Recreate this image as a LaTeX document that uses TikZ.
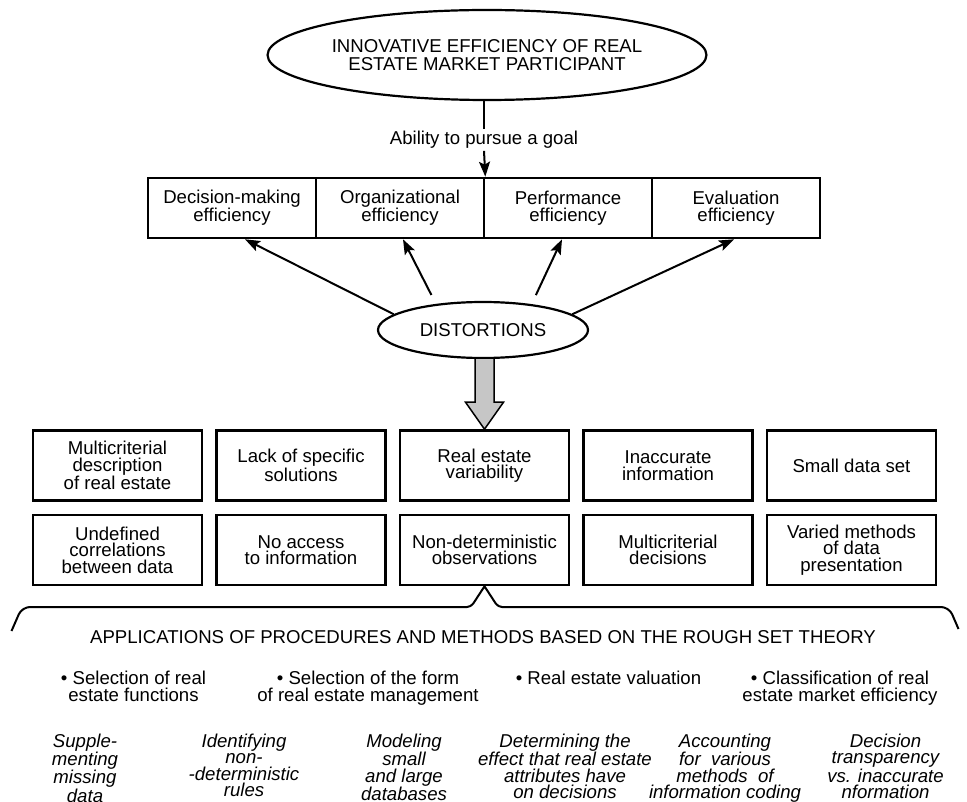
\documentclass[tikz,border=0pt]{standalone}
\usepackage{fontspec}
\setmainfont{Liberation Sans}
\usetikzlibrary{shapes.geometric,arrows.meta,calc}
\begin{document}
\begin{tikzpicture}[x=1pt,y=-1pt,
every node/.style={inner sep=0pt,align=center,font=\fontsize{18.6}{16.6}\selectfont},
oval/.style={draw,ellipse,line width=2.2pt},
goalbox/.style={draw,line width=2.6pt,minimum width=168pt,minimum height=60pt},
factbox/.style={draw,line width=2.6pt,minimum width=169pt,minimum height=70pt},
link/.style={line width=2pt,-{Stealth[length=15pt,width=11pt,inset=3pt]}},
usage/.style={anchor=north,font=\fontsize{18.6}{17.7}\selectfont},
task/.style={anchor=north,font=\fontsize{18.6}{16.5}\selectfont\itshape}]
\useasboundingbox (0,0) rectangle (967,802);
\node[oval,minimum width=400pt,minimum height=90pt,font=\fontsize{18.6}{17.5}\selectfont] (ieff) at (487,55) {INNOVATIVE EFFICIENCY OF REAL\\ESTATE MARKET PARTICIPANT};
\node[inner sep=2pt] (goal) at (484,140) {Ability to pursue a goal};
\node[goalbox] (b1) at (232,208) {Decision-making\\efficiency};
\node[goalbox] (b2) at (400,208) {Organizational\\efficiency};
\node[goalbox] (b3) at (568,208) {Performance\\efficiency};
\node[goalbox] (b4) at (736,208) {Evaluation\\efficiency};
\node[oval,minimum width=210pt,minimum height=56pt] (dist) at (483,330) {DISTORTIONS};
\node[factbox] (f1) at (117.5,465.5) {Multicriterial\\description\\of real estate};
\node[factbox] (f2) at (301,465.5) {Lack of specific\\solutions};
\node[factbox] (f3) at (484.5,465.5) {Real estate\\variability};
\node[factbox] (f4) at (668,465.5) {Inaccurate\\information};
\node[factbox] (f5) at (851.5,465.5) {Small data set};
\node[factbox] (g1) at (117.5,550) {Undefined\\correlations\\between data};
\node[factbox] (g2) at (301,550) {No access\\to information};
\node[factbox] (g3) at (484.5,550) {Non-deterministic\\observations};
\node[factbox] (g4) at (668,550) {Multicriterial\\decisions};
\node[factbox] (g5) at (851.5,550) {Varied methods\\of data\\presentation};
\coordinate (bl) at (11.5,631);
\coordinate (br) at (958.5,629);
\node (appl) at (483,636.6) {APPLICATIONS OF PROCEDURES AND METHODS BASED ON THE ROUGH SET THEORY};
\node[usage] (u1) at (133.5,670.4) {• Selection of real\\estate functions};
\node[usage] (u2) at (368,670.4) {• Selection of the form\\of real estate management};
\node[usage] (u3) at (608.5,670.4) {• Real estate valuation};
\node[usage] (u4) at (840,670.4) {• Classification of real\\estate market efficiency};
\node[task] (t1) at (85,733.5) {Supple-\\menting\\missing\\data};
\node[task] (t2) at (244,733.5) {Identifying\\non-\\-deterministic\\rules};
\node[task] (t3) at (404,733.5) {Modeling\\small\\and large\\databases};
\node[task] (t4) at (565,733.5) {Determining the\\effect that real estate\\attributes have\\on decisions};
\node[task] (t5) at (725,733.5) {Accounting\\for\ \ various\\methods\ \ of\\information coding};
\node[task] (t6) at (885.5,733.5) {Decision\\transparency\\vs. inaccurate\\nformation};
\draw[line width=2pt] (goal.north) -- (goal.north |- ieff.south);
\draw[link] (goal.south) -- (b2.north east);
\draw[link] (dist.170) -- ([xshift=13pt]b1.south);
\draw[link,shorten <=10pt] (dist.151) -- ([xshift=3pt]b2.south);
\draw[link,shorten <=10pt] (dist.28) -- ([xshift=-6pt]b3.south);
\draw[link] (dist.10) -- ([xshift=-2pt]b4.south);
\draw[line width=1.5pt,fill=gray!45] ($(f3.north |- dist.south)+(-9.5,0)$) -- ($(f3.north)+(-9.5,-27)$) -- ($(f3.north)+(-19,-27)$) -- (f3.north) -- ($(f3.north)+(19,-27)$) -- ($(f3.north)+(9.5,-27)$) -- ($(f3.north |- dist.south)+(9.5,0)$);
\draw[line width=2pt] (bl) [rounded corners=8pt] -- (22,607) [rounded corners=4pt] -- (471,607) [sharp corners] -- (g3.south) [rounded corners=4pt] -- (498,607) [rounded corners=8pt] -- (949,607) -- (br);
\end{tikzpicture}
\end{document}
